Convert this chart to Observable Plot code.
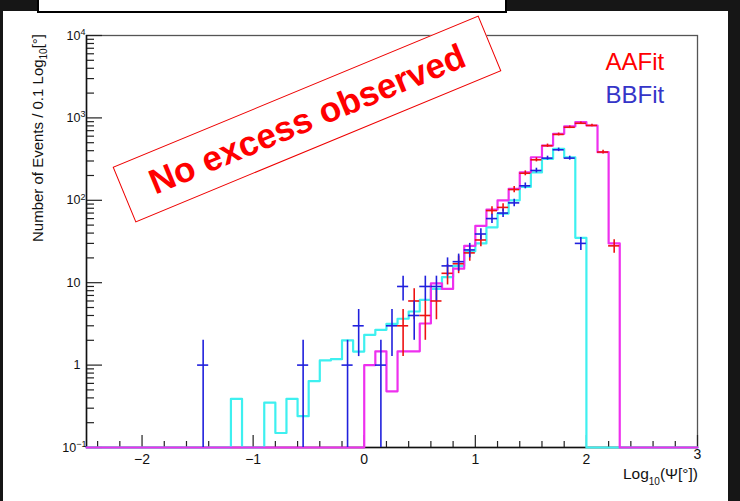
<!DOCTYPE html>
<html><head><meta charset="utf-8">
<script src="https://cdn.jsdelivr.net/npm/d3@7"></script>
<script src="https://cdn.jsdelivr.net/npm/@observablehq/plot@0.6"></script>
<style>
html,body{margin:0;padding:0;width:740px;height:501px;overflow:hidden;background:#161616;}
#panel{position:absolute;left:3px;top:11px;width:725px;height:490px;background:#fff;}
#titlebox{position:absolute;left:37px;top:-4px;width:466px;height:13px;background:#fff;border:2px solid #000;}
#chart{position:absolute;left:0;top:0;}
#stamp{position:absolute;left:109px;top:89px;width:396px;height:60px;box-sizing:border-box;border:1.5px solid #e00;background:#fff;
  transform:rotate(-22.5deg);display:flex;align-items:center;justify-content:center;
  font:bold 35px "Liberation Sans",Arial,sans-serif;color:#f00;white-space:nowrap;}
</style></head>
<body>
<div id="panel"></div>
<div id="titlebox"></div>
<div id="chart"></div>
<div id="stamp">No excess observed</div>
<script>
// ---- data ----
const binWidth = 0.1;
const xMin = -2.5, xMax = 3;
const yMin = 0.1, yMax = 1e4;

// AAFit simulation histogram (magenta), bins of 0.1 starting at lower edge 0.0
const aaMcStart = 0.0;
const aaMcValues = [1.0, 1.47, 0.48, 1.47, 1.47, 3.2, 9.8, 8.4, 14.8, 28,
                    49, 77, 100, 138, 219, 333, 462, 641, 787, 887,
                    809, 384, 30];
// BBFit simulation histogram (cyan), bins starting at lower edge -1.2
const bbMcStart = -1.2;
const bbMcValues = [0.39, 0, 0, 0.35, 0.15, 0.39, 0.24, 0.64, 1.14, 1.18,
                    2.0, 1.46, 2.33, 2.68, 3.17, 3.65, 4.47, 6.2, 8.4, 11.7,
                    16, 24, 30, 47, 69, 100, 145, 218, 319, 422,
                    333, 35];
// AAFit data points (red)
const aaDataX = [0.35, 0.45, 0.55, 0.65, 0.75, 0.85, 0.95, 1.05, 1.15, 1.25,
                 1.35, 1.45, 1.55, 1.65, 1.75, 1.85, 1.95, 2.05, 2.15, 2.25];
const aaDataY = [3, 6, 4, 6, 13, 17, 23, 33, 75, 82,
                 135, 213, 310, 460, 630, 770, 860, 810, 385, 28];
// BBFit data points (blue)
const bbDataX = [-1.45, -0.55, -0.15, -0.05, 0.15, 0.25, 0.35, 0.45, 0.55, 0.65,
                 0.75, 0.85, 0.95, 1.05, 1.15, 1.25, 1.35, 1.45, 1.55, 1.65,
                 1.75, 1.85, 1.95];
const bbDataY = [1, 1, 1, 3, 1, 3, 9, 4, 9, 9,
                 16, 18, 25, 39, 60, 70, 93, 150, 230, 325,
                 410, 325, 30];

const xLabelTicks = [-2, -1, 0, 1, 2, 3];
const xMinorTicks = [-2.4,-2.2,-1.8,-1.6,-1.4,-1.2,-0.8,-0.6,-0.4,-0.2,0.2,0.4,0.6,0.8,1.2,1.4,1.6,1.8,2.2,2.4,2.6,2.8];
const yMajorTicks = [0.1, 1, 10, 100, 1000, 10000];
const yLabels = ["10^-1", "1", "10", "10^2", "10^3", "10^4"];
const legendNames = ["AAFit", "BBFit"];

// ---- build ----
function histPoints(start, values) {
  const n = Math.round((xMax - xMin) / binWidth);
  const s = Math.round((start - xMin) / binWidth);
  const pts = [];
  for (let i = 0; i < n; i++) {
    const j = i - s;
    pts.push({x: xMin + i * binWidth, y: (j >= 0 && j < values.length) ? values[j] : 0});
  }
  pts.push({x: xMax, y: pts[pts.length - 1].y});
  return pts;
}
const aaMc = histPoints(aaMcStart, aaMcValues);
const bbMc = histPoints(bbMcStart, bbMcValues);
const aaData = aaDataX.map((x, i) => ({x, y: aaDataY[i]}));
const bbData = bbDataX.map((x, i) => ({x, y: bbDataY[i]}));
const yMinor = [];
for (let e = -1; e < 4; e++) for (let k = 2; k <= 9; k++) yMinor.push(k * Math.pow(10, e));

const W = 740, H = 501, mL = 86, mR = 43, mT = 35, mB = 54;
const pW = W - mL - mR, pH = H - mT - mB;
const clampY = d => Math.max(d.y, yMin);
const cRed = "#ee1111", cBlue = "#2020dd", cCyan = "#3ef0f0", cMag = "#ee30ee";

function crosses(data, color) {
  return [
    Plot.ruleX(data, {x: "x", y1: d => Math.max(d.y - Math.sqrt(d.y), yMin), y2: d => d.y + Math.sqrt(d.y), stroke: color, strokeWidth: 1.6}),
    Plot.ruleY(data, {y: "y", x1: d => d.x - binWidth / 2, x2: d => d.x + binWidth / 2, stroke: color, strokeWidth: 1.6})
  ];
}

const plot = Plot.plot({
  width: W, height: H,
  marginLeft: mL, marginRight: mR, marginTop: mT, marginBottom: mB,
  style: {background: "transparent", fontFamily: "'Liberation Sans', Arial, sans-serif", color: "#111"},
  x: {domain: [xMin, xMax], label: null},
  y: {type: "log", domain: [yMin, yMax], label: null},
  marks: [
    Plot.frame({stroke: "#555", strokeWidth: 1.3}),
    Plot.ruleX(xMinorTicks, {x: d => d, insetTop: pH - 6, stroke: "#222", strokeWidth: 1.2}),
    Plot.ruleX(xLabelTicks, {x: d => d, insetTop: pH - 12, stroke: "#222", strokeWidth: 1.2}),
    Plot.ruleY(yMinor, {y: d => d, insetRight: pW - 8, stroke: "#222", strokeWidth: 1.2}),
    Plot.ruleY(yMajorTicks, {y: d => d, insetRight: pW - 16, stroke: "#222", strokeWidth: 1.2}),
    Plot.ruleX([xMin], {stroke: "#111", strokeWidth: 1.5}),
    Plot.ruleY([yMin], {stroke: "#111", strokeWidth: 1.5}),
    Plot.line(bbMc, {x: "x", y: clampY, curve: "step-after", stroke: cCyan, strokeWidth: 2.2}),
    Plot.line(aaMc, {x: "x", y: clampY, curve: "step-after", stroke: cMag, strokeWidth: 2.2}),
    ...crosses(aaData, cRed),
    ...crosses(bbData, cBlue),
    Plot.axisX({ticks: xLabelTicks, tickSize: 0, tickPadding: 7, fontSize: 14, label: null,
      tickFormat: d => d < 0 ? "\u2212" + (-d) : String(d)}),
    Plot.axisY({ticks: yMajorTicks, tickSize: 0, tickPadding: 6, fontSize: 12.5, label: null,
      tickFormat: d => yLabels[yMajorTicks.indexOf(d)]}),
    Plot.text([legendNames[0]], {frameAnchor: "top-left", dx: 519, dy: 17, text: d => d, fill: "#f00", fontSize: 24, textAnchor: "start"}),
    Plot.text([legendNames[1]], {frameAnchor: "top-left", dx: 519, dy: 50, text: d => d, fill: "#3535c8", fontSize: 24, textAnchor: "start"})
  ]
});
document.getElementById("chart").appendChild(plot);

const svg = d3.select(plot);
// last x label sits a little higher, as in the reference
svg.selectAll('g[aria-label="x-axis tick label"] text').filter(function () { return d3.select(this).text() === "3"; })
  .attr("dy", function () { return (parseFloat(d3.select(this).attr("dy")) || 0) - 5; });
// superscripts on y tick labels
svg.selectAll('g[aria-label="y-axis tick label"] text').each(function () {
  const t = d3.select(this);
  const s = t.text();
  if (s.includes("^")) {
    const [b, e] = s.split("^");
    t.text(null);
    t.append("tspan").text(b);
    t.append("tspan").attr("dy", "-0.5em").attr("font-size", "9px").text(e.replace("-", "\u2212"));
    t.attr("dx", (+t.attr("dx") || 0) + (e.length > 1 ? 6 : 5));
  }
});
// axis titles
const yt = svg.append("text")
  .attr("transform", "translate(43,138) rotate(-90)")
  .attr("text-anchor", "middle").attr("font-size", 15).attr("fill", "#111")
  .attr("font-family", "'Liberation Sans', Arial, sans-serif");
yt.append("tspan").text("Number of Events / 0.1 Log");
yt.append("tspan").attr("font-size", 10).attr("dy", 4).text("10");
yt.append("tspan").attr("dy", -4).text("[°]");
const xt = svg.append("text")
  .attr("x", 698).attr("y", 479)
  .attr("text-anchor", "end").attr("font-size", 15.5).attr("fill", "#111")
  .attr("font-family", "'Liberation Sans', Arial, sans-serif");
xt.append("tspan").text("Log");
xt.append("tspan").attr("font-size", 10).attr("dy", 6).text("10");
xt.append("tspan").attr("dy", -6).text("(\u03A8[°])");
</script>
</body></html>
